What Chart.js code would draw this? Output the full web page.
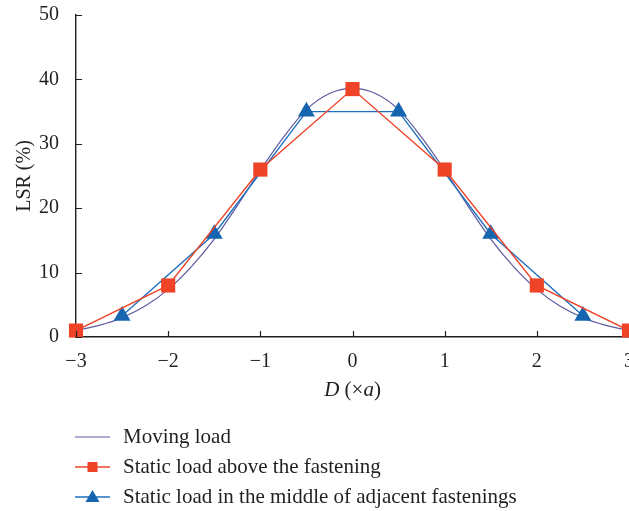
<!DOCTYPE html>
<html lang="en">
<head>
  <meta charset="UTF-8">
  <title>LSR vs D</title>
  <script src="https://cdn.jsdelivr.net/npm/chart.js"></script>
  <style>
    body {margin: 0; background: #fff;}
    #wrap {width: 629px; height: 511px;}
  </style>
</head>
<body>
<div id="wrap"><canvas id="lsrChart" width="629" height="511"></canvas></div>

<script>
  // moving load curve (every 0.25a)
  const movingX = [-3, -2.75, -2.5, -2.25, -2, -1.75, -1.5, -1.25, -1, -0.75, -0.5, -0.25, 0,
                   0.25, 0.5, 0.75, 1, 1.25, 1.5, 1.75, 2, 2.25, 2.5, 2.75, 3];
  const movingY = [1.0, 1.8, 3.0, 4.8, 7.4, 10.9, 15.2, 20.4, 25.9, 31.0, 35.3, 37.8, 38.6,
                   37.8, 35.3, 31.0, 25.9, 20.4, 15.2, 10.9, 7.4, 4.8, 3.0, 1.8, 1.0];
  // static load above the fastening
  const aboveX = [-3, -2, -1, 0, 1, 2, 3];
  const aboveY = [1.0, 8.0, 26.0, 38.5, 26.0, 8.0, 1.0];
  // static load in the middle of adjacent fastenings
  const middleX = [-2.5, -1.5, -0.5, 0.5, 1.5, 2.5];
  const middleY = [3.3, 16.0, 35.0, 35.0, 16.0, 3.3];

  const seriesNames = ['Moving load', 'Static load above the fastening', 'Static load in the middle of adjacent fastenings'];
  const xTicks = [-3, -2, -1, 0, 1, 2, 3];
  const yTicks = [0, 10, 20, 30, 40, 50];

  const ink = '#231f20';
  const serif = "'Liberation Serif', 'DejaVu Serif', serif";
  const toPts = (xs, ys) => xs.map((x, i) => ({x: x, y: ys[i]}));
  const minus = v => String(v).replace('-', '\u2212');

  // inward tick marks, x title with italics, and the legend under the plot
  const extras = {
    id: 'extras',
    afterDraw(chart) {
      const ctx = chart.ctx;
      const xs = chart.scales.x, ys = chart.scales.y;
      const a = chart.chartArea;
      ctx.save();
      ctx.strokeStyle = ink;
      ctx.lineWidth = 1.2;
      ctx.beginPath();
      xTicks.forEach(v => {
        const px = Math.round(xs.getPixelForValue(v)) + 0.5;
        ctx.moveTo(px, a.bottom); ctx.lineTo(px, a.bottom - 6);
      });
      yTicks.forEach(v => {
        const py = Math.round(ys.getPixelForValue(v)) + 0.5;
        ctx.moveTo(a.left, py); ctx.lineTo(a.left + 6, py);
      });
      ctx.stroke();

      // x title: D (×a)
      const parts = [['D', 'italic'], [' (\u00d7', 'normal'], ['a', 'italic'], [')', 'normal']];
      let w = 0;
      parts.forEach(p => { ctx.font = p[1] + ' 21px ' + serif; w += ctx.measureText(p[0]).width; });
      let cx = (a.left + a.right) / 2 - w / 2;
      ctx.fillStyle = ink;
      ctx.textBaseline = 'middle';
      ctx.textAlign = 'left';
      parts.forEach(p => {
        ctx.font = p[1] + ' 21px ' + serif;
        ctx.fillText(p[0], cx, 390);
        cx += ctx.measureText(p[0]).width;
      });

      // legend
      chart.data.datasets.forEach((ds, i) => {
        const y = 437 + i * 30;
        ctx.strokeStyle = ds.borderColor;
        ctx.lineWidth = ds.borderWidth;
        ctx.beginPath();
        ctx.moveTo(75, y); ctx.lineTo(110, y);
        ctx.stroke();
        ctx.fillStyle = ds.pointBackgroundColor;
        if (ds.pointStyle === 'rect') {
          ctx.fillRect(92.5 - 5, y - 5, 10, 10);
        } else if (ds.pointStyle === 'triangle') {
          ctx.beginPath();
          ctx.moveTo(92.5, y - 7);
          ctx.lineTo(92.5 + 7, y + 5);
          ctx.lineTo(92.5 - 7, y + 5);
          ctx.closePath();
          ctx.fill();
        }
        ctx.fillStyle = ink;
        ctx.font = '21px ' + serif;
        ctx.fillText(ds.label, 123, y);
      });
      ctx.restore();
    }
  };

  new Chart(document.getElementById('lsrChart').getContext('2d'), {
    type: 'line',
    data: {
      datasets: [
        {
          label: seriesNames[0],
          data: toPts(movingX, movingY),
          borderColor: '#5c5a9e',
          pointBackgroundColor: '#5c5a9e',
          borderWidth: 1.2,
          pointRadius: 0,
          cubicInterpolationMode: 'monotone',
          clip: false,
          order: 3
        },
        {
          label: seriesNames[1],
          data: toPts(aboveX, aboveY),
          borderColor: '#ee4327',
          pointBackgroundColor: '#ee4327',
          pointBorderColor: '#ee4327',
          borderWidth: 1.4,
          pointStyle: 'rect',
          pointRadius: 10,
          pointBorderWidth: 0,
          tension: 0,
          clip: false,
          order: 1
        },
        {
          label: seriesNames[2],
          data: toPts(middleX, middleY),
          borderColor: '#1f6fbd',
          pointBackgroundColor: '#1565b0',
          pointBorderColor: '#1565b0',
          borderWidth: 1.4,
          pointStyle: 'triangle',
          pointRadius: 9.8,
          pointBorderWidth: 0,
          tension: 0,
          clip: false,
          order: 2
        }
      ]
    },
    options: {
      responsive: false,
      animation: false,
      events: [],
      layout: {autoPadding: false, padding: {top: 15, right: 0, bottom: 0, left: 0}},
      plugins: {legend: {display: false}, tooltip: {enabled: false}},
      scales: {
        x: {
          type: 'linear',
          min: -3, max: 3,
          grid: {display: false},
          border: {display: true, color: ink, width: 1.4},
          afterBuildTicks: s => { s.ticks = xTicks.map(v => ({value: v})); },
          ticks: {
            color: ink, padding: 5,
            font: {family: serif, size: 20},
            callback: v => minus(v)
          },
          afterFit: s => { s.height = 511 - 337; s.paddingLeft = 0; s.paddingRight = 0; }
        },
        y: {
          min: 0, max: 50,
          grid: {display: false},
          border: {display: true, color: ink, width: 1.4},
          afterBuildTicks: s => { s.ticks = yTicks.map(v => ({value: v})); },
          ticks: {
            color: ink, padding: 9,
            font: {family: serif, size: 20}
          },
          title: {
            display: true, text: 'LSR (%)', color: ink,
            font: {family: serif, size: 20},
            padding: {top: 12.5, bottom: 0}
          },
          afterFit: s => { s.width = 76; s.paddingTop = 0; s.paddingBottom = 0; }
        }
      }
    },
    plugins: [extras]
  });
</script>
</body>
</html>
